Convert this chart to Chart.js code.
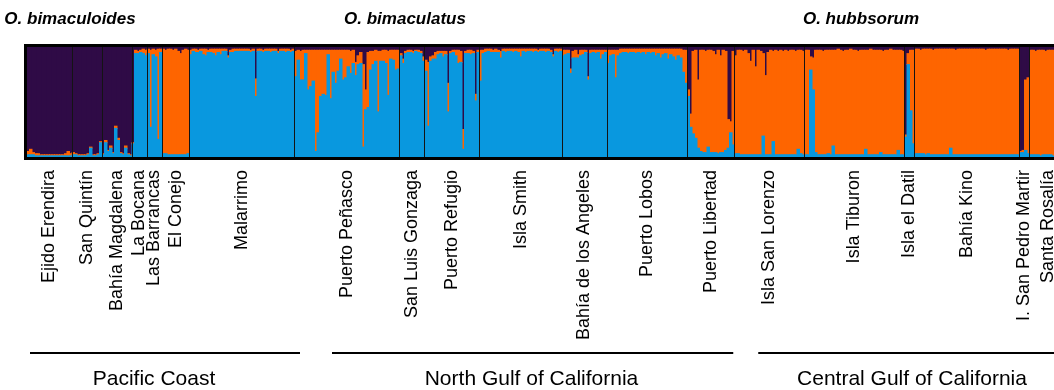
<!DOCTYPE html>
<html><head><meta charset="utf-8">
<script src="https://cdn.jsdelivr.net/npm/chart.js@4.4.1/dist/chart.umd.min.js"></script>
<style>html,body{margin:0;padding:0;background:#fff;overflow:hidden;width:1054px;height:390px}canvas{display:block}</style>
</head><body><canvas id="c" width="1054" height="390"></canvas>
<script>
// ---- DATA ----
const populations = ['Ejido Erendira','San Quintín','Bahía Magdalena','La Bocana','Las Barrancas','El Conejo','Malarrimo',
  'Puerto Peñasco','San Luis Gonzaga','Puerto Refugio','Isla Smith','Bahía de los Angeles','Puerto Lobos','Puerto Libertad',
  'Isla San Lorenzo','Isla Tiburon','Isla el Datil','Bahía Kino','I. San Pedro Martir','Santa Rosalía'];
const popSizes = [18,12,12,6,6,11,42,42,10,22,33,18,32,19,28,40,4,42,4,15];
const regions = ['Pacific Coast','North Gulf of California','Central Gulf of California'];
const species = ['O. bimaculoides','O. bimaculatus','O. hubbsorum'];

// membership (%) per individual, cluster 1 (purple)
const purple = [
 95,93,96,97,97,98,98,98,98,98,98,98,98,98,98,97,95,97,
 96,97,98,98,98,98,97,91,98,98,97,86,
 97,85,94,90,96,72,83,96,97,90,97,98,
 87,3,4,3,2,3,
 2,3,2,3,2,2,
 2,3,2,2,3,2,4,6,3,2,3,
 3,2,2,3,2,2,2,3,2,2, 2,2,2,2,2,8,3,2,2,2, 2,2,2,2,3,2,29,2,2,3, 2,2,2,2,2,4,2,2,2,2, 3,2,
 4,3,4,3,3,3,3,3,3,3, 3,3,3,3,3,3,3,3,3,3, 3,3,4,3,14,8,5,16,39,5, 4,4,3,4,4,3,3,4,3,3, 3,3,
 6,11,4,3,3,4,3,3,4,9,
 12,14,9,8,5,4,4,4,4,33, 4,3,3,3,4,75,4,3,3,4, 43,3,
 3,3,2,2,2,3,2,3,4,2, 2,2,2,2,2,2,2,2,2,2, 2,2,2,3,2,2,2,2,3,7, 2,2,2,
 3,3,3,20,4,3,7,3,3,3,27,3,3,3,3,3,3,3,
 3,3,3,3,3,2,2,2,2,2, 2,2,2,2,2,2,2,2,2,2, 2,2,2,2,2,2,2,2,2,2, 3,3,
 39,61,4,3,30,3,3,4,3,3, 4,7,3,8,3,4,66,68,4,
 8,3,3,4,3,6,13,3,18,3, 4,6,26,5,3,4,3,4,3,4, 3,4,3,3,4,3,3,4,
 3,3,9,10,3,3,3,4,3,3, 3,3,3,2,3,4,3,3,2,3, 3,4,3,3,3,3,2,3,3,3, 3,4,3,3,2,3,3,3,3,4,
 80,6,3,3,
 2,2,3,2,2,2,2,3,2,2, 2,2,2,2,2,2,3,2,2,2, 2,2,2,2,2,2,2,2,3,2, 2,2,2,2,2,2,2,3,2,2, 2,2,
 95,94,30,28,
 3,3,4,3,3,3,4,3,3,3,3,4,3,3,3
];
// cluster 2 (orange)
const orange = [
 3,5,2,2,2,1,1,1,1,1,1,1,1,1,1,2,4,2,
 2,1,1,1,1,1,1,1,1,1,1,1,
 1,2,1,2,1,2,2,1,1,2,1,1,
 1,3,2,2,4,5,
 4,70,5,6,82,3,
 95,94,96,96,95,96,94,92,95,96,94,
 4,2,3,2,2,5,6,2,3,4, 6,3,5,2,2,2,2,3,2,2, 2,2,2,2,2,2,16,2,2,2, 2,2,3,2,2,2,2,2,3,2, 2,2,
 23,9,26,27,3,36,33,28,92,75, 42,40,41,4,44,20,30,19,8,27, 25,15,20,12,12,8,10,75,18,50, 17,12,10,55,9,10,12,40,8,9, 18,17,
 2,4,2,2,2,2,1,2,2,4,
 10,58,4,3,6,3,2,5,3,26, 2,2,5,12,10,18,2,3,4,2, 6,2,
 28,3,3,2,3,2,3,2,6,2, 3,2,2,3,2,3,7,2,3,2, 2,3,2,2,2,2,3,2,2,2, 2,3,2,
 5,4,3,4,6,7,3,5,4,2,3,3,2,3,2,8,4,2,
 12,5,4,25,5,4,3,3,4,3, 3,4,3,4,3,5,3,4,3,6, 4,8,5,4,9,5,7,10,6,8, 20,30,
 6,12,75,80,62,92,93,92,88,93, 92,89,94,88,93,90,26,10,85,
 89,94,95,94,95,92,85,95,80,95, 94,75,72,93,95,82,95,94,95,94, 95,94,95,95,94,90,94,94,
 95,95,12,29,93,95,95,94,95,94, 95,87,95,96,95,94,95,95,96,95, 95,94,95,95,90,95,96,95,95,95, 93,94,95,95,96,95,95,91,95,94,
 2,10,55,85,
 95,95,94,95,96,95,96,95,96,96, 96,96,96,96,90,96,95,96,96,96, 96,96,96,96,96,96,96,96,95,96, 96,96,96,96,96,96,96,95,96,96, 96,96,
 1,2,64,69,
 95,95,94,95,96,95,94,95,95,96,95,94,95,95,95
];
// cluster 3 (blue)
const blue = [
 2,2,2,1,1,1,1,1,1,1,1,1,1,1,1,1,1,1,
 2,2,1,1,1,1,2,8,1,1,2,13,
 2,13,5,8,3,26,15,3,2,8,2,1,
 12,94,94,95,94,92,
 94,27,93,91,16,95,
 3,3,2,2,2,2,2,2,2,2,3,
 93,96,95,95,96,93,92,95,95,94, 92,95,93,96,96,90,95,95,96,96, 96,96,96,96,95,96,55,96,96,95, 96,96,95,96,96,94,96,96,95,96, 95,96,
 73,88,70,70,94,61,64,69,5,22, 55,57,56,93,53,77,67,78,89,70, 72,82,76,85,74,84,85,9,43,45, 79,84,87,41,87,87,85,56,89,88, 79,80,
 92,85,94,95,95,94,96,95,94,87,
 78,28,87,89,89,93,94,91,93,41, 94,95,92,85,86,7,94,94,93,94, 51,95,
 69,94,95,96,95,95,95,95,90,96, 95,96,96,95,96,95,91,96,95,96, 96,95,96,95,96,96,95,96,95,91, 96,95,96,
 92,93,94,76,90,90,90,92,93,95,70,94,95,94,95,89,93,95,
 85,92,93,72,92,94,95,95,94,95, 95,94,95,94,95,93,95,94,95,92, 94,90,93,94,89,93,91,88,92,90, 77,67,
 55,27,21,17,8,5,4,4,9,4, 4,4,3,4,4,6,8,22,11,
 3,3,2,2,2,2,2,2,2,2, 2,19,2,2,2,14,2,2,2,2, 2,2,2,2,2,7,3,2,
 2,2,79,61,4,2,2,2,2,3, 2,10,2,2,2,2,2,2,2,2, 2,2,2,2,7,2,2,2,2,2, 4,2,2,2,2,2,2,6,2,2,
 18,84,42,12,
 3,3,3,3,2,3,2,2,2,2, 2,2,2,2,8,2,2,2,2,2, 2,2,2,2,2,2,2,2,2,2, 2,2,2,2,2,2,2,2,2,2, 2,2,
 4,4,6,3,
 2,2,2,2,1,2,2,2,2,1,2,2,2,2,2
];

// ---- LAYOUT (positions in individual-index units) ----
const VISIBLE_MAX = 410.3;   // the plot runs past the right edge of the picture
const regionSpans = [[0.7,108.7,50.3],[121.5,282,201.3],[292,416,353.5]];
const speciesAt = [16.7,150.7,333.1];
const COLORS = {purple:'#2f0b46', orange:'#fe6500', blue:'#0998df'};
const FONT = '"Liberation Sans", Arial, Helvetica, sans-serif';

// individual positions and population ticks
const indIndex = [];
const centers = new Map();
const boundaries = new Set();
let start = 0;
populations.forEach((p, i) => {
  for (let k = 0; k < popSizes[i]; k++) indIndex.push(start + k);
  if (i > 0) boundaries.add(start - 0.5);
  centers.set(start + popSizes[i] / 2 - 0.5, p);
  start += popSizes[i];
});
const tickVals = [...centers.keys(), ...boundaries].sort((a, b) => a - b);

const overlay = {
  id: 'overlay',
  afterDraw(chart) {
    const {ctx, chartArea: a} = chart;
    const s = chart.scales.x;
    const xr = s.getPixelForValue(indIndex.length - 0.5);
    ctx.save();
    ctx.strokeStyle = '#000';
    ctx.lineWidth = 3;
    ctx.strokeRect(a.left - 1.5, a.top - 1.5, xr - a.left + 3, a.bottom - a.top + 3);
    ctx.fillStyle = '#000';
    ctx.textAlign = 'center';
    ctx.textBaseline = 'alphabetic';
    ctx.font = 'italic bold 17px ' + FONT;
    species.forEach((t, i) => ctx.fillText(t, s.getPixelForValue(speciesAt[i]), 24));
    ctx.font = '21px ' + FONT;
    ctx.lineWidth = 2;
    regions.forEach((t, i) => {
      const [f, e, c] = regionSpans[i];
      ctx.beginPath();
      ctx.moveTo(s.getPixelForValue(f), 353);
      ctx.lineTo(s.getPixelForValue(e), 353);
      ctx.stroke();
      ctx.fillText(t, s.getPixelForValue(c), 385);
    });
    ctx.restore();
  }
};

new Chart(document.getElementById('c'), {
  type: 'bar',
  data: {
    labels: indIndex,
    datasets: [
      {label: 'Cluster 3', data: blue, backgroundColor: COLORS.blue},
      {label: 'Cluster 2', data: orange, backgroundColor: COLORS.orange},
      {label: 'Cluster 1', data: purple, backgroundColor: COLORS.purple}
    ]
  },
  options: {
    responsive: false,
    devicePixelRatio: 1,
    animation: false,
    layout: {padding: {left: 27, right: 0, top: 47, bottom: 0}},
    datasets: {bar: {barPercentage: 1, categoryPercentage: 1, borderWidth: 0, inflateAmount: 0.5}},
    plugins: {legend: {display: false}, tooltip: {enabled: false}},
    scales: {
      y: {stacked: true, display: false, min: 0, max: 100},
      x: {
        type: 'linear', position: 'bottom', stacked: true,
        min: -0.5, max: VISIBLE_MAX, z: 1,
        offset: false, bounds: 'data',
        border: {display: false},
        grid: {
          z: 1, offset: false, drawTicks: false, drawOnChartArea: true, lineWidth: 1,
          color: (c) => (c.tick && boundaries.has(c.tick.value)) ? '#141414' : 'rgba(0,0,0,0)'
        },
        afterBuildTicks(axis) { axis.ticks = tickVals.map(v => ({value: v})); },
        afterFit(axis) { axis.height = 233; axis.paddingLeft = 0; axis.paddingRight = 0; },
        ticks: {
          autoSkip: false, minRotation: 90, maxRotation: 90, padding: 13,
          color: '#000', font: {family: FONT, size: 18},
          callback: (v) => centers.get(v) || ''
        }
      }
    }
  },
  plugins: [overlay]
});
</script>
</body></html>
